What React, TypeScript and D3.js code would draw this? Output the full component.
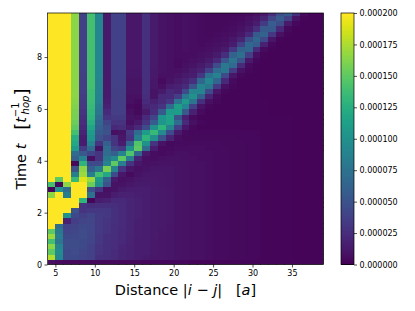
import * as d3 from "d3";
import { useLayoutEffect, useRef } from "react";

// spectral weight in units of 1e-6, one list per time step, columns are distance 4..38
const rowsEarly = [
  [8, 6, 5, 5, 5, 5, 5, 5, 5, 5, 5, 5, 4, 4, 4, 4, 4, 4, 3, 3, 3, 3, 3, 3, 3, 3, 3, 3, 3, 3, 3, 3, 3, 3, 3],
  [178, 92, 44, 44, 40, 38, 28, 26, 24, 20, 18, 15, 14, 12, 12, 11, 10, 9, 8, 8, 7, 6, 6, 5, 5, 4, 4, 3, 3, 3, 3, 2, 2, 2, 2],
  [150, 96, 44, 46, 42, 38, 30, 28, 24, 20, 18, 16, 15, 13, 12, 11, 10, 9, 8, 8, 7, 6, 6, 5, 5, 4, 4, 3, 3, 3, 3, 2, 2, 2, 2],
  [165, 90, 46, 46, 44, 38, 30, 28, 25, 21, 18, 16, 15, 13, 12, 11, 10, 9, 8, 8, 7, 6, 6, 5, 5, 4, 4, 3, 3, 3, 3, 2, 2, 2, 2],
  [140, 78, 46, 46, 44, 40, 32, 28, 25, 22, 19, 16, 15, 13, 12, 11, 10, 9, 8, 8, 7, 6, 6, 5, 5, 4, 4, 3, 3, 3, 3, 2, 2, 2, 2],
  [170, 84, 44, 44, 46, 42, 32, 28, 26, 22, 19, 17, 15, 14, 12, 11, 10, 9, 8, 8, 7, 6, 6, 5, 5, 4, 4, 3, 3, 3, 3, 2, 2, 2, 2],
  [150, 80, 40, 42, 46, 42, 34, 30, 26, 22, 20, 17, 15, 14, 12, 11, 10, 9, 8, 8, 7, 6, 6, 5, 5, 4, 4, 3, 3, 3, 3, 2, 2, 2, 2],
  [255, 70, 38, 40, 44, 42, 34, 30, 26, 24, 20, 17, 15, 14, 13, 11, 10, 9, 8, 8, 7, 6, 6, 5, 5, 4, 4, 3, 3, 3, 3, 2, 2, 2, 2],
  [255, 255, 18, 36, 40, 42, 34, 30, 28, 24, 20, 17, 16, 14, 13, 12, 10, 9, 8, 8, 7, 6, 6, 5, 5, 4, 4, 3, 3, 3, 3, 2, 2, 2, 2],
  [255, 255, 100, 44, 36, 40, 34, 32, 28, 24, 20, 18, 16, 14, 13, 12, 10, 9, 8, 8, 7, 6, 6, 5, 5, 4, 4, 3, 3, 3, 3, 2, 2, 2, 2],
  [255, 255, 255, 50, 30, 32, 32, 32, 28, 24, 20, 18, 16, 14, 13, 12, 10, 9, 8, 8, 7, 6, 6, 5, 5, 4, 4, 3, 3, 3, 3, 2, 2, 2, 2],
  [255, 255, 255, 255, 30, 26, 28, 28, 26, 24, 20, 18, 16, 14, 13, 12, 10, 9, 8, 8, 7, 6, 6, 5, 5, 4, 4, 3, 3, 3, 3, 2, 2, 2, 2],
  [255, 255, 255, 255, 130, 3, 16, 18, 22, 22, 20, 18, 16, 14, 13, 12, 10, 9, 8, 8, 7, 6, 6, 5, 5, 4, 4, 3, 3, 3, 3, 2, 2, 2, 2],
];

const rowsFront = [
  [165, 255, 85, 255, 255, 75, 10, 10, 16, 18, 18, 17, 15, 14, 13, 12, 10, 9, 8, 8, 7, 6, 6, 5, 5, 4, 4, 3, 3, 3, 3, 2, 2, 2, 2],
  [3, 100, 70, 255, 255, 50, 30, 8, 10, 14, 16, 16, 15, 14, 13, 12, 10, 9, 8, 8, 7, 6, 6, 5, 5, 4, 4, 3, 3, 3, 3, 2, 2, 2, 2],
  [140, 5, 165, 255, 255, 155, 100, 50, 10, 10, 12, 14, 14, 13, 12, 11, 10, 9, 8, 8, 7, 6, 6, 5, 5, 4, 4, 3, 3, 3, 3, 2, 2, 2, 2],
  [255, 150, 255, 135, 190, 170, 110, 60, 14, 8, 10, 12, 13, 13, 12, 11, 10, 9, 8, 8, 7, 6, 6, 5, 5, 4, 4, 3, 3, 3, 3, 2, 2, 2, 2],
  [255, 255, 255, 85, 170, 85, 140, 120, 45, 12, 6, 10, 12, 12, 12, 11, 10, 9, 8, 8, 7, 6, 6, 5, 5, 4, 4, 3, 3, 3, 3, 2, 2, 2, 2],
  [255, 255, 255, 50, 165, 60, 80, 160, 90, 30, 12, 8, 10, 11, 11, 11, 10, 9, 8, 8, 7, 6, 6, 5, 5, 4, 4, 3, 3, 3, 3, 2, 2, 2, 2],
  [255, 255, 255, 5, 130, 45, 45, 90, 150, 85, 30, 12, 8, 9, 10, 10, 9, 9, 8, 8, 7, 6, 6, 5, 5, 4, 4, 3, 3, 3, 3, 2, 2, 2, 2],
  [255, 255, 255, 60, 90, 8, 30, 80, 95, 150, 85, 20, 8, 7, 8, 9, 9, 8, 8, 7, 7, 6, 6, 5, 5, 4, 4, 3, 3, 3, 3, 2, 2, 2, 2],
  [255, 255, 255, 70, 55, 40, 30, 70, 60, 90, 145, 65, 14, 7, 6, 7, 8, 8, 7, 7, 7, 6, 6, 5, 5, 4, 4, 3, 3, 3, 3, 2, 2, 2, 2],
  [255, 255, 255, 110, 35, 70, 10, 70, 40, 35, 100, 150, 70, 15, 6, 6, 7, 7, 7, 7, 6, 6, 6, 5, 5, 4, 4, 3, 3, 3, 3, 2, 2, 2, 2],
  [255, 255, 255, 120, 15, 90, 30, 60, 30, 15, 65, 145, 100, 30, 10, 5, 6, 6, 6, 6, 6, 6, 5, 5, 5, 4, 4, 3, 3, 3, 3, 2, 2, 2, 2],
  [255, 255, 255, 125, 15, 105, 50, 40, 30, 12, 30, 85, 130, 100, 50, 20, 7, 5, 5, 5, 5, 5, 5, 5, 4, 4, 4, 3, 3, 3, 3, 2, 2, 2, 2],
  [255, 255, 255, 140, 20, 110, 55, 50, 8, 10, 35, 70, 110, 135, 95, 45, 14, 6, 4, 4, 4, 4, 4, 4, 4, 4, 4, 3, 3, 3, 3, 2, 2, 2, 2],
];

const rowsBand = [
  [255, 255, 255, 150, 22, 118, 60, 48, 22, 25, 14, 22, 45, 100, 130, 90, 38, 12, 5, 3, 3, 3, 3, 3, 3, 3, 3, 3, 3, 3, 3, 2, 2, 2, 2],
  [255, 255, 255, 155, 25, 125, 65, 40, 30, 30, 8, 14, 30, 58, 105, 115, 70, 24, 8, 4, 3, 3, 3, 3, 3, 3, 3, 3, 3, 3, 3, 2, 2, 2, 2],
  [255, 255, 255, 158, 28, 130, 70, 30, 34, 34, 10, 8, 24, 40, 105, 115, 50, 18, 6, 3, 3, 3, 3, 3, 3, 3, 3, 3, 3, 3, 3, 2, 2, 2, 2],
  [255, 255, 255, 160, 30, 132, 78, 24, 36, 36, 8, 5, 14, 26, 55, 110, 110, 55, 18, 6, 3, 3, 3, 3, 3, 3, 3, 3, 2, 2, 2, 2, 2, 2, 2],
  [255, 255, 255, 162, 32, 135, 82, 18, 36, 36, 6, 4, 20, 22, 30, 70, 112, 92, 38, 10, 4, 3, 3, 3, 3, 3, 3, 3, 2, 2, 2, 2, 2, 2, 2],
  [255, 255, 255, 164, 34, 136, 86, 16, 36, 36, 8, 6, 24, 18, 24, 32, 78, 108, 78, 28, 8, 4, 3, 3, 3, 3, 3, 3, 2, 2, 2, 2, 2, 2, 2],
  [255, 255, 255, 165, 35, 138, 88, 14, 37, 37, 8, 8, 26, 10, 22, 24, 36, 82, 100, 62, 20, 6, 3, 3, 3, 3, 3, 2, 2, 2, 2, 2, 2, 2, 2],
  [255, 255, 255, 165, 36, 138, 90, 14, 37, 37, 10, 10, 28, 10, 14, 22, 20, 45, 90, 90, 45, 12, 4, 3, 3, 3, 3, 2, 2, 2, 2, 2, 2, 2, 2],
  [255, 255, 255, 165, 36, 140, 90, 14, 38, 38, 10, 10, 28, 12, 8, 16, 18, 24, 50, 90, 80, 35, 8, 4, 3, 3, 3, 2, 2, 2, 2, 2, 2, 2, 2],
  [255, 255, 255, 165, 37, 140, 90, 14, 38, 38, 10, 10, 28, 12, 6, 10, 14, 18, 28, 65, 92, 65, 23, 6, 3, 3, 3, 2, 2, 2, 2, 2, 2, 2, 2],
  [255, 255, 255, 165, 37, 140, 92, 14, 38, 38, 11, 11, 28, 13, 8, 8, 10, 14, 16, 32, 75, 88, 45, 12, 4, 3, 3, 2, 2, 2, 2, 2, 2, 2, 2],
];

const rowsLate = [
  [255, 255, 255, 165, 38, 140, 92, 14, 38, 38, 11, 11, 28, 13, 10, 8, 8, 10, 14, 18, 38, 70, 80, 35, 9, 4, 3, 2, 2, 2, 2, 2, 2, 2, 2],
  [255, 255, 255, 165, 38, 140, 92, 14, 38, 38, 12, 12, 28, 14, 10, 8, 6, 8, 10, 14, 20, 46, 80, 68, 24, 6, 3, 2, 2, 2, 2, 2, 2, 2, 2],
  [255, 255, 255, 165, 38, 140, 92, 14, 38, 38, 12, 12, 28, 14, 10, 8, 6, 7, 8, 10, 14, 22, 52, 78, 50, 14, 4, 2, 2, 2, 2, 2, 2, 2, 2],
  [255, 255, 255, 165, 38, 140, 92, 14, 38, 38, 12, 12, 28, 14, 10, 8, 7, 7, 7, 8, 10, 14, 26, 62, 72, 36, 8, 3, 2, 2, 2, 2, 2, 2, 2],
  [255, 255, 255, 165, 38, 140, 92, 14, 38, 38, 12, 12, 28, 14, 10, 8, 7, 8, 7, 7, 8, 10, 14, 32, 62, 66, 24, 6, 3, 2, 2, 2, 2, 2, 2],
  [255, 255, 255, 165, 38, 140, 92, 14, 38, 38, 12, 12, 28, 14, 10, 8, 7, 8, 7, 6, 7, 8, 10, 16, 38, 66, 58, 18, 4, 2, 2, 2, 2, 2, 2],
  [255, 255, 255, 165, 38, 140, 92, 14, 38, 38, 12, 12, 28, 14, 10, 8, 7, 8, 7, 6, 6, 7, 8, 12, 20, 48, 66, 44, 11, 3, 2, 2, 2, 2, 2],
  [255, 255, 255, 165, 38, 140, 92, 14, 38, 38, 12, 12, 28, 14, 10, 8, 7, 8, 7, 6, 5, 6, 7, 8, 12, 22, 56, 62, 32, 8, 3, 2, 2, 2, 2],
  [255, 255, 255, 165, 38, 140, 92, 14, 38, 38, 12, 12, 28, 14, 10, 8, 7, 8, 7, 6, 5, 5, 6, 7, 9, 14, 28, 55, 55, 22, 5, 2, 2, 2, 2],
  [255, 255, 255, 165, 38, 140, 92, 14, 38, 38, 12, 12, 28, 14, 10, 8, 7, 8, 7, 6, 5, 5, 5, 6, 7, 10, 16, 34, 58, 46, 14, 4, 2, 2, 2],
  [255, 255, 255, 165, 38, 140, 92, 14, 38, 38, 12, 12, 28, 14, 10, 8, 7, 8, 7, 6, 5, 5, 5, 5, 6, 8, 11, 20, 40, 57, 38, 10, 3, 2, 2],
  [255, 255, 255, 165, 38, 140, 92, 14, 38, 38, 12, 12, 28, 14, 10, 8, 7, 8, 7, 6, 5, 5, 5, 5, 5, 6, 8, 13, 26, 48, 56, 28, 6, 2, 2],
];

const heatRows = [...rowsEarly, ...rowsFront, ...rowsBand, ...rowsLate];
const distances = d3.range(4, 39);
const timeStep = 0.2;
const xTicks = [5, 10, 15, 20, 25, 30, 35];
const yTicks = [0, 2, 4, 6, 8];
const barTicks = [0, 0.000025, 0.00005, 0.000075, 0.0001, 0.000125, 0.00015, 0.000175, 0.0002];

const LEFT = 47.5;
const RIGHT = 323.5;
const TOP = 13;
const BOTTOM = 264.5;
const BAR_LEFT = 341;
const BAR_RIGHT = 354;
const FONT = "'DejaVu Sans'";

export default function App() {
  const svgRef = useRef<SVGSVGElement>(null);

  useLayoutEffect(() => {
    const svg = d3.select(svgRef.current);
    svg.selectAll("*").remove();

    const x = d3.scaleLinear().domain([4, 39]).range([LEFT, RIGHT]);
    const y = d3.scaleLinear().domain([0, 9.7]).range([BOTTOM, TOP]);
    const color = d3.scaleSequential(d3.interpolateViridis).domain([0, 200]).clamp(true);
    const barY = d3.scaleLinear().domain([0, 0.0002]).range([BOTTOM, TOP]);

    svg
      .append("defs")
      .append("clipPath")
      .attr("id", "plot-clip")
      .append("rect")
      .attr("x", LEFT)
      .attr("y", TOP)
      .attr("width", RIGHT - LEFT)
      .attr("height", BOTTOM - TOP);

    const mesh = svg.append("g").attr("clip-path", "url(#plot-clip)").attr("shape-rendering", "crispEdges");
    heatRows.forEach((row, r) => {
      mesh
        .selectAll(`.row-${r}`)
        .data(row)
        .join("rect")
        .attr("class", `row-${r}`)
        .attr("x", (_, i) => x(distances[i]))
        .attr("y", y((r + 1) * timeStep))
        .attr("width", x(5) - x(4) + 0.5)
        .attr("height", y(0) - y(timeStep) + 0.5)
        .attr("fill", (d) => color(d));
    });

    const styleAxis = (g: any) => {
      g.selectAll("text").style("font-family", FONT).style("font-size", "8px").attr("fill", "#000");
      g.selectAll("line").attr("stroke", "#000").attr("stroke-width", 0.7);
      g.select(".domain").remove();
    };

    svg
      .append("g")
      .attr("transform", `translate(0,${BOTTOM})`)
      .call(d3.axisBottom(x).tickValues(xTicks).tickSize(3).tickPadding(2.5))
      .call(styleAxis);
    svg
      .append("g")
      .attr("transform", `translate(${LEFT},0)`)
      .call(d3.axisLeft(y).tickValues(yTicks).tickSize(3).tickPadding(2.5))
      .call(styleAxis);

    svg
      .append("rect")
      .attr("x", LEFT)
      .attr("y", TOP)
      .attr("width", RIGHT - LEFT)
      .attr("height", BOTTOM - TOP)
      .attr("fill", "none")
      .attr("stroke", "#000")
      .attr("stroke-width", 0.7);

    // colorbar
    const bar = svg.append("g").attr("shape-rendering", "crispEdges");
    const steps = d3.range(0, 200, 1);
    bar
      .selectAll("rect")
      .data(steps)
      .join("rect")
      .attr("x", BAR_LEFT)
      .attr("width", BAR_RIGHT - BAR_LEFT)
      .attr("y", (d) => barY((d + 1) * 1e-6))
      .attr("height", barY(0) - barY(1e-6) + 0.5)
      .attr("fill", (d) => color(d + 0.5));
    svg
      .append("rect")
      .attr("x", BAR_LEFT)
      .attr("y", TOP)
      .attr("width", BAR_RIGHT - BAR_LEFT)
      .attr("height", BOTTOM - TOP)
      .attr("fill", "none")
      .attr("stroke", "#000")
      .attr("stroke-width", 0.7);
    svg
      .append("g")
      .attr("transform", `translate(${BAR_RIGHT},0)`)
      .call(
        d3
          .axisRight(barY)
          .tickValues(barTicks)
          .tickFormat(d3.format(".6f") as any)
          .tickSize(3)
          .tickPadding(2.5)
      )
      .call(styleAxis);

    // axis labels with mathtext-like italics
    const xLabel = svg
      .append("text")
      .attr("x", 185.5)
      .attr("y", 295)
      .attr("text-anchor", "middle")
      .style("white-space", "pre")
      .style("font-family", FONT)
      .style("font-size", "14.5px");
    xLabel.append("tspan").text("Distance |");
    xLabel.append("tspan").style("font-style", "italic").text("i");
    xLabel.append("tspan").text(" \u2212 ");
    xLabel.append("tspan").style("font-style", "italic").text("j");
    xLabel.append("tspan").text("|   [");
    xLabel.append("tspan").style("font-style", "italic").text("a");
    xLabel.append("tspan").text("]");

    // the bracket pair is taller than the text, so it gets its own font size
    const yLabel = svg
      .append("text")
      .attr("transform", "translate(26,139) rotate(-90)")
      .attr("text-anchor", "middle")
      .style("white-space", "pre")
      .style("font-family", FONT)
      .style("font-size", "14.5px");
    yLabel.append("tspan").text("Time ");
    yLabel.append("tspan").style("font-style", "italic").text("t");
    yLabel.append("tspan").text("   ");
    yLabel.append("tspan").attr("dy", 1.5).style("font-size", "18px").text("[");
    yLabel.append("tspan").attr("dy", -1.5).style("font-style", "italic").text("t");
    yLabel.append("tspan").attr("dy", -7).style("font-size", "10px").text("\u22121");
    yLabel.append("tspan").attr("dx", -12).attr("dy", 10).style("font-size", "10px").style("font-style", "italic").text("hop");
    yLabel.append("tspan").attr("dy", -1.5).style("font-size", "18px").text("]");
  }, []);

  return (
    <svg
      ref={svgRef}
      width={415}
      height={311}
      style={{ position: "absolute", left: 0, top: 0, display: "block" }}
    />
  );
}
